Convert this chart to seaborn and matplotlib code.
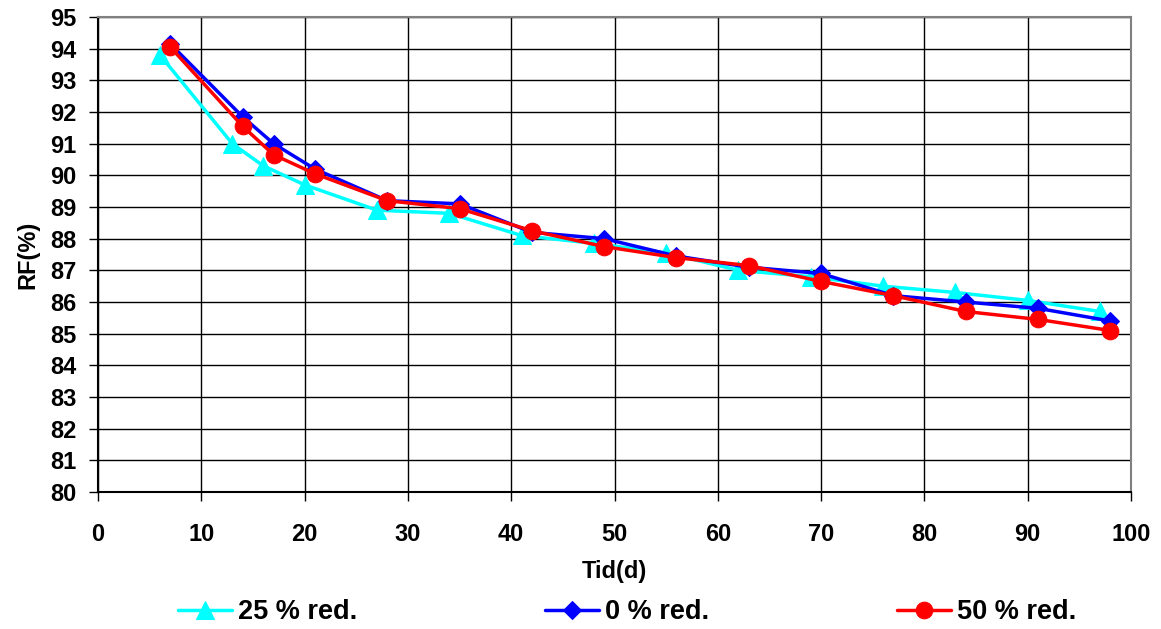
import matplotlib
matplotlib.use("Agg")
import matplotlib.pyplot as plt
import seaborn as sns
import pandas as pd

x_25 = [6, 13, 16, 20, 27, 34, 41, 48, 55, 62, 69, 76, 83, 90, 97]
y_25 = [93.8, 91.0, 90.3, 89.7, 88.9, 88.8, 88.1, 87.85, 87.55, 87.0, 86.8, 86.5, 86.3, 86.05, 85.7]
x_0 = [7, 14, 17, 21, 28, 35, 42, 49, 56, 63, 70, 77, 84, 91, 98]
y_0 = [94.15, 91.85, 91.0, 90.2, 89.2, 89.1, 88.2, 88.0, 87.45, 87.1, 86.9, 86.2, 86.0, 85.8, 85.4]
x_50 = [7, 14, 17, 21, 28, 35, 42, 49, 56, 63, 70, 77, 84, 91, 98]
y_50 = [94.05, 91.55, 90.65, 90.05, 89.2, 88.95, 88.25, 87.75, 87.4, 87.15, 86.65, 86.2, 85.7, 85.45, 85.1]
series_names = ["25 % red.", "0 % red.", "50 % red."]

sns.set_style("white")
plt.rcParams['font.family'] = ['Liberation Sans', 'DejaVu Sans']
plt.rcParams['font.weight'] = 'bold'
plt.rcParams['text.color'] = 'black'
plt.rcParams['axes.labelcolor'] = 'black'
plt.rcParams['xtick.color'] = 'black'
plt.rcParams['ytick.color'] = 'black'

fig = plt.figure(figsize=(11.61, 6.29), dpi=100)
ax = fig.add_axes([98/1161, 1-492/629, (1131-98)/1161, (492-17)/629])

specs = [
    (x_25, y_25, series_names[0], "#00FFFF", "^", 13),
    (x_0, y_0, series_names[1], "#0000FF", "D", 9),
    (x_50, y_50, series_names[2], "#FF0000", "o", 12),
]
for xs, ys, name, col, mk, ms in specs:
    df = pd.DataFrame({"x": xs, "y": ys})
    sns.lineplot(data=df, x="x", y="y", ax=ax, color=col, marker=mk, markersize=ms,
                 linewidth=2.5, markeredgecolor=col, label=name, sort=False)

ax.set_xlim(0, 100)
ax.set_ylim(80, 95)
ax.set_xticks(range(0, 101, 10))
ax.set_yticks(range(80, 96, 1))
ax.grid(True, color="black", linewidth=1)
ax.tick_params(axis='both', labelsize=17, length=6.5, width=1, direction='out',
               bottom=True, left=True, color='black', labelcolor='black')
for lab in ax.get_xticklabels() + ax.get_yticklabels():
    lab.set_fontweight('bold')
ax.tick_params(axis='x', pad=16)
ax.tick_params(axis='y', pad=9)
for s in ax.spines.values():
    s.set_color("#808080")
    s.set_linewidth(1.5)
ax.spines['left'].set_color('black')
ax.spines['bottom'].set_color('black')
ax.set_xlabel("Tid(d)", fontsize=17, fontweight='bold', labelpad=10, color='black')
ax.set_ylabel("RF(%)", fontsize=17, fontweight='bold', labelpad=8, color='black')

handles, labels = ax.get_legend_handles_labels()
ax.get_legend().remove()
fig.legend(handles, labels, loc='center', bbox_to_anchor=(0.54, 1 - 612/629), ncol=3,
           frameon=False, prop={'size': 19.5, 'weight': 'bold'}, columnspacing=6.95,
           handlelength=2.0, handletextpad=0.2, labelcolor='black')

fig.savefig("out.png", dpi=100)
